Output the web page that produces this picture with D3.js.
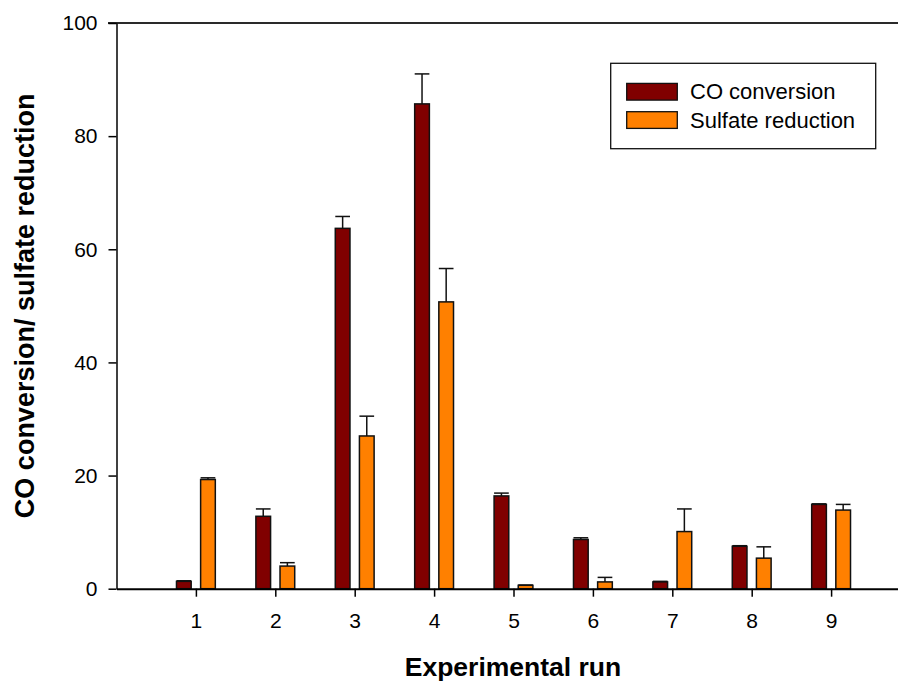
<!DOCTYPE html>
<html>
<head>
<meta charset="utf-8">
<script src="https://cdn.jsdelivr.net/npm/d3@7"></script>
<style>
  html, body { margin: 0; padding: 0; background: #fff; }
  svg { display: block; font-family: Arial, "Liberation Sans", sans-serif; }
</style>
</head>
<body>
<svg id="chart" width="898" height="682"></svg>
<script>
// Experimental runs and measured percentages
const runs = [1, 2, 3, 4, 5, 6, 7, 8, 9];
const coConversion = [1.3, 12.8, 63.7, 85.7, 16.4, 8.7, 1.2, 7.5, 14.9];
const coError = [0.1, 1.3, 2.1, 5.3, 0.5, 0.3, 0.1, 0.1, 0.1];
const sulfateReduction = [19.3, 4.0, 27.0, 50.7, 0.6, 1.2, 10.1, 5.4, 13.9];
const sulfateError = [0.3, 0.6, 3.5, 5.9, 0.05, 0.8, 4.0, 2.0, 1.0];
const yTicks = [0, 20, 40, 60, 80, 100];
const seriesNames = ["CO conversion", "Sulfate reduction"];
const seriesColors = ["#800000", "#ff8000"];

const svg = d3.select("#chart");

// Run axis spans 0..10; the right end runs past the page edge
const x = d3.scaleLinear().domain([0, 10]).range([116.5, 910.5]);
const y = d3.scaleLinear().domain([0, 100]).range([588.7, 23]);

const barW = x(0.185) - x(0);
const offset = x(0.152) - x(0);

const series = [
  { name: seriesNames[0], color: seriesColors[0], values: coConversion, errors: coError, shift: -offset },
  { name: seriesNames[1], color: seriesColors[1], values: sulfateReduction, errors: sulfateError, shift: offset }
];

// Top frame line
svg.append("line")
  .attr("x1", 108).attr("x2", 898)
  .attr("y1", y(100)).attr("y2", y(100))
  .attr("stroke", "#2a2a2a").attr("stroke-width", 2);

// Bars with upward error bars
series.forEach(s => {
  const g = svg.append("g");
  runs.forEach((r, i) => {
    const cx = x(r) + s.shift;
    const v = s.values[i];
    const top = v + s.errors[i];
    g.append("line")
      .attr("x1", cx).attr("x2", cx)
      .attr("y1", y(v)).attr("y2", y(top))
      .attr("stroke", "#111").attr("stroke-width", 1.5);
    g.append("line")
      .attr("x1", cx - barW / 2).attr("x2", cx + barW / 2)
      .attr("y1", y(top)).attr("y2", y(top))
      .attr("stroke", "#111").attr("stroke-width", 1.5);
    g.append("rect")
      .attr("x", cx - barW / 2)
      .attr("y", y(v))
      .attr("width", barW)
      .attr("height", y(0) - y(v))
      .attr("fill", s.color)
      .attr("stroke", "#111")
      .attr("stroke-width", 1.5);
  });
});

// Y axis
const yAxis = svg.append("g")
  .attr("transform", `translate(${x(0)},0)`)
  .call(d3.axisLeft(y).tickValues(yTicks).tickSize(8).tickSizeOuter(0).tickPadding(11));
yAxis.selectAll("text").attr("font-size", 21).attr("fill", "#000").attr("font-family", "Arial, 'Liberation Sans', sans-serif");
yAxis.selectAll("line").attr("stroke", "#000").attr("stroke-width", 1.5);
yAxis.select(".domain").attr("stroke", "#000").attr("stroke-width", 1.5);

// X axis
const xAxis = svg.append("g")
  .attr("transform", `translate(0,${y(0)})`)
  .call(d3.axisBottom(x).tickValues(runs).tickFormat(d3.format("d")).tickSize(8).tickSizeOuter(0).tickPadding(16));
xAxis.selectAll("text").attr("font-size", 21).attr("fill", "#000").attr("font-family", "Arial, 'Liberation Sans', sans-serif");
xAxis.selectAll("line").attr("stroke", "#000").attr("stroke-width", 1.5);
xAxis.select(".domain").attr("stroke", "#000").attr("stroke-width", 2);

// Axis titles
svg.append("text")
  .attr("x", 513).attr("y", 676)
  .attr("text-anchor", "middle")
  .attr("font-size", 26.5).attr("font-weight", "bold")
  .text("Experimental run");

svg.append("text")
  .attr("transform", `translate(34,${(y(0) + y(100)) / 2}) rotate(-90)`)
  .attr("text-anchor", "middle")
  .attr("font-size", 27).attr("font-weight", "bold")
  .text("CO conversion/ sulfate reduction");

// Legend
const legend = svg.append("g");
legend.append("rect")
  .attr("x", 610.7).attr("y", 63.3)
  .attr("width", 265).attr("height", 85.4)
  .attr("fill", "#fff").attr("stroke", "#111").attr("stroke-width", 1.3);
series.forEach((s, i) => {
  const cy = 91.7 + i * 28.3;
  legend.append("rect")
    .attr("x", 626.7).attr("y", cy - 8.3)
    .attr("width", 50.6).attr("height", 16.7)
    .attr("fill", s.color).attr("stroke", "#111").attr("stroke-width", 1.3);
  legend.append("text")
    .attr("x", 690).attr("y", cy)
    .attr("dy", "0.35em")
    .attr("font-size", 22)
    .text(s.name);
});
</script>
</body>
</html>
